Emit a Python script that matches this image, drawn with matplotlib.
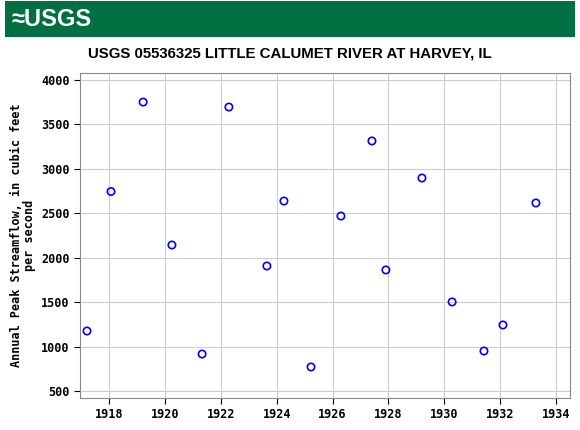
import matplotlib
matplotlib.use('Agg')
import matplotlib.pyplot as plt
from matplotlib.patches import Rectangle

# annual peak streamflow
years = [1917.21, 1918.07, 1919.22, 1920.25, 1921.33, 1922.29, 1923.65, 1924.26,
         1925.23, 1926.30, 1927.41, 1927.91, 1929.20, 1930.28, 1931.42, 1932.10, 1933.28]
peaks = [1175, 2745, 3752, 2143, 916, 3696, 1907, 2638,
         770, 2469, 3314, 1862, 2897, 1502, 950, 1243, 2616]
xticks = list(range(1918, 1935, 2))
yticks = list(range(500, 4001, 500))

fig = plt.figure(figsize=(5.8, 4.3), dpi=100)

# green USGS banner
fig.patches.append(Rectangle((5/580, 1-37/430), 570/580, 36/430, transform=fig.transFigure,
                             facecolor='#006F41', edgecolor='none'))
fig.text(12/580, 1-19/430, '\u2248USGS', color='white', fontsize=17, fontweight='bold',
         family='Liberation Sans', va='center', ha='left')
fig.text(290/580, 1-53/430, 'USGS 05536325 LITTLE CALUMET RIVER AT HARVEY, IL',
         family='Liberation Sans', fontweight='bold', fontsize=10.8, ha='center', va='center')

ax = fig.add_axes([80/580, 1-398/430, 490/580, 325/430])
ax.scatter(years, peaks, s=28, facecolors='none', edgecolors='#0000ff', linewidths=1.2, zorder=3)
ax.set_xlim(1916.96, 1934.5)
ax.set_ylim(421, 4079)
ax.set_xticks(xticks)
ax.set_yticks(yticks)
ax.grid(True, color='#cccccc', linewidth=0.8)
ax.set_axisbelow(True)
for lab in ax.get_xticklabels() + ax.get_yticklabels():
    lab.set_family('DejaVu Sans Mono')
    lab.set_fontweight('bold')
    lab.set_fontsize(8.5)
ax.tick_params(length=4)
ax.set_ylabel('Annual Peak Streamflow, in cubic feet\nper second', family='DejaVu Sans Mono',
              fontsize=8.5, fontweight='bold', linespacing=1.0)
for s in ax.spines.values():
    s.set_color('#888888')

fig.savefig('out.png', dpi=100)
